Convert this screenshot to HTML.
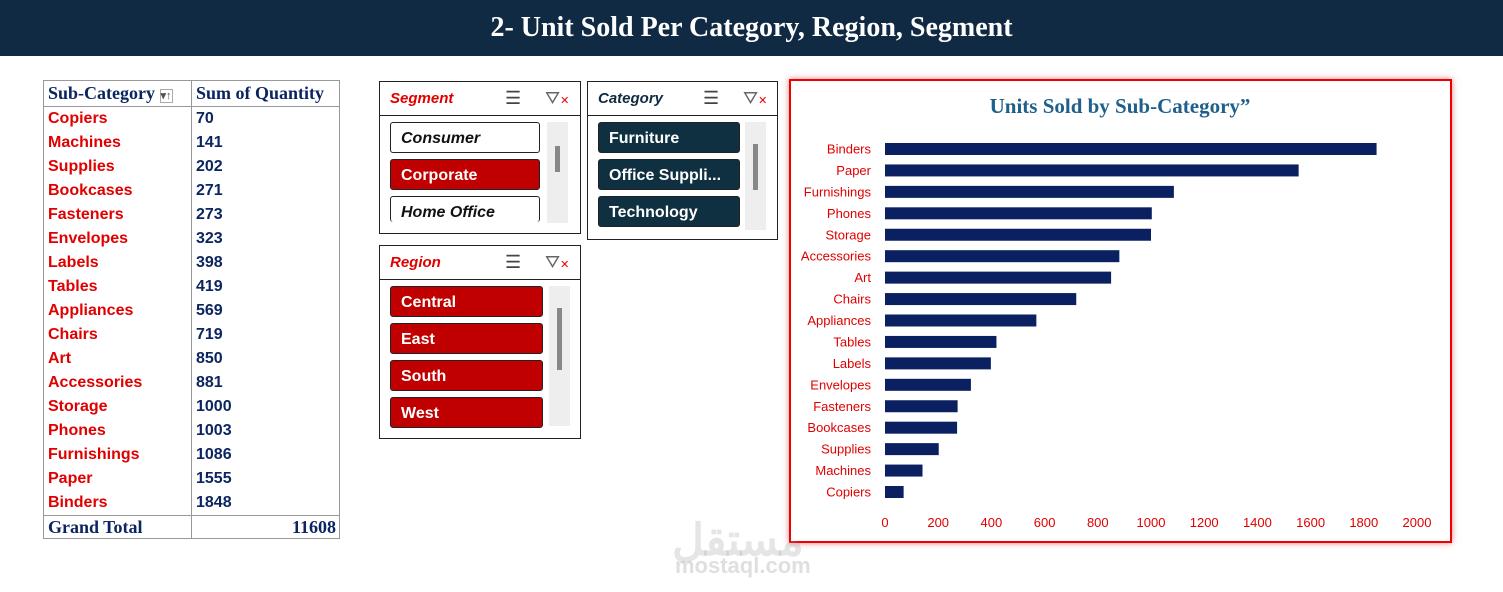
<!DOCTYPE html>
<html><head><meta charset="utf-8"><style>
body{margin:0;width:1503px;height:592px;background:#fff;position:relative;overflow:hidden;font-family:"Liberation Sans",sans-serif}
.abs{position:absolute}
#title{left:0;top:0;width:1503px;height:56px;background:#102a43;color:#fff;font:bold 28px "Liberation Serif",serif;text-align:center;line-height:56px}
table{border-collapse:collapse;position:absolute;left:43px;top:80px}
td{border-left:1px solid #999;border-right:1px solid #999;padding:0 0 0 4px;height:24px;font-weight:bold;font-size:16px;color:#0b2560}
td.n{color:#e00000}
tr.h td{font:bold 18px "Liberation Serif",serif;color:#0b2560;border:1px solid #999;height:25px}
tr.g td{font:bold 18px "Liberation Serif",serif;border:1px solid #999;height:22px}
.sl{border:1px solid #222;background:#fff}
.sh{position:absolute;left:0;top:0;right:0;height:33px;border-bottom:1px solid #222;font:italic bold 15px "Liberation Sans",sans-serif;line-height:33px;padding-left:10px}
.it{position:absolute;width:150px;height:31px;border:1px solid #222;border-radius:3px;font:bold 16px "Liberation Sans",sans-serif;line-height:31px;padding-left:10px;box-sizing:border-box}
.red{background:#c00000;color:#fff}.dk{background:#0f3040;color:#fff}.wh{background:#fff;color:#111;font-style:italic}
.sb{position:absolute;width:21px;background:#eee}
.sb div{position:absolute;left:8px;width:5px;background:#888}
.ic{position:absolute;top:6px;font-size:18px;color:#444}
</style></head><body>
<div id="title" class="abs">2- Unit Sold Per Category, Region, Segment</div>

<table>
<tr class="h"><td style="width:143px">Sub-Category <span style="font-size:11px;border:1px solid #aaa;color:#555">▾↑</span></td><td style="width:143px">Sum of Quantity</td></tr>
<tbody id="tb"></tbody>
<tr class="g"><td>Grand Total</td><td style="text-align:right;padding-right:3px">11608</td></tr>
</table>

<div class="abs sl" style="left:379px;top:81px;width:200px;height:151px">
<div class="sh" style="color:#e00000">Segment</div>
<div class="ic" style="left:125px">☰</div><div class="ic" style="left:165px;color:#666">⛛<span style="color:#e00;font-size:11px">✕</span></div>
<div class="it wh" style="left:10px;top:40px">Consumer</div>
<div class="it red" style="left:10px;top:77px">Corporate</div>
<div class="it wh" style="left:10px;top:114px;height:26px;border-bottom:none">Home Office</div>
<div class="sb" style="left:167px;top:40px;height:101px"><div style="top:24px;height:26px"></div></div>
</div>

<div class="abs sl" style="left:587px;top:81px;width:189px;height:157px">
<div class="sh" style="color:#102a43">Category</div>
<div class="ic" style="left:115px">☰</div><div class="ic" style="left:155px;color:#666">⛛<span style="color:#e00;font-size:11px">✕</span></div>
<div class="it dk" style="left:10px;top:40px;width:142px">Furniture</div>
<div class="it dk" style="left:10px;top:77px;width:142px">Office Suppli...</div>
<div class="it dk" style="left:10px;top:114px;width:142px">Technology</div>
<div class="sb" style="left:157px;top:40px;height:108px"><div style="top:22px;height:46px"></div></div>
</div>

<div class="abs sl" style="left:379px;top:245px;width:200px;height:192px">
<div class="sh" style="color:#e00000">Region</div>
<div class="ic" style="left:125px">☰</div><div class="ic" style="left:165px;color:#666">⛛<span style="color:#e00;font-size:11px">✕</span></div>
<div class="it red" style="left:10px;top:40px;width:153px">Central</div>
<div class="it red" style="left:10px;top:77px;width:153px">East</div>
<div class="it red" style="left:10px;top:114px;width:153px">South</div>
<div class="it red" style="left:10px;top:151px;width:153px">West</div>
<div class="sb" style="left:169px;top:40px;height:140px"><div style="top:22px;height:62px"></div></div>
</div>

<div class="abs" style="left:789px;top:79px;width:659px;height:460px;border:2px solid #e00;box-shadow:0 0 6px rgba(200,0,0,.5)"></div>
<svg class="abs" style="left:0;top:0" width="1503" height="592" id="ch">
<text x="1120" y="113" text-anchor="middle" font-family="Liberation Serif,serif" font-weight="bold" font-size="21" fill="#1f5f8b">Units Sold by Sub-Category”</text>
</svg>
<div class="abs" style="left:672px;top:515px;font:bold 44px 'Liberation Sans',sans-serif;color:rgba(150,150,150,.25)">مستقل</div>
<div class="abs" style="left:675px;top:553px;font:bold 22px 'Liberation Sans',sans-serif;color:rgba(150,150,150,.3)">mostaql.com</div>
<script>
const categories=["Copiers","Machines","Supplies","Bookcases","Fasteners","Envelopes","Labels","Tables","Appliances","Chairs","Art","Accessories","Storage","Phones","Furnishings","Paper","Binders"];
const values=[70,141,202,271,273,323,398,419,569,719,850,881,1000,1003,1086,1555,1848];
const ticks=[0,200,400,600,800,1000,1200,1400,1600,1800,2000];
const tb=document.getElementById('tb');
categories.forEach((c,i)=>{const tr=document.createElement('tr');


tr.innerHTML='<td class="n">'+c+'</td><td>'+values[i]+'</td>';tb.appendChild(tr);});
const ns='http://www.w3.org/2000/svg',svg=document.getElementById('ch');
const x=v=>885+v*(1417-885)/2000;
const y=i=>149+(categories.length-1-i)*(492-149)/(categories.length-1);
function el(t,a,txt){const e=document.createElementNS(ns,t);for(const k in a)e.setAttribute(k,a[k]);if(txt!==undefined)e.textContent=txt;svg.appendChild(e);return e;}
categories.forEach((c,i)=>{
const r=el('rect',{x:x(0),y:y(i)-6,width:x(values[i])-x(0),height:12,fill:'#0b2060'});


const t=el('text',{x:871,y:y(i)+4.5,'text-anchor':'end','font-size':13,fill:'#e00000','font-family':'Liberation Sans,sans-serif'},c);


});
ticks.forEach(v=>{const t=el('text',{x:x(v),y:527,'text-anchor':'middle','font-size':13,fill:'#e00000','font-family':'Liberation Sans,sans-serif'},v);

});
</script>
</body></html>
